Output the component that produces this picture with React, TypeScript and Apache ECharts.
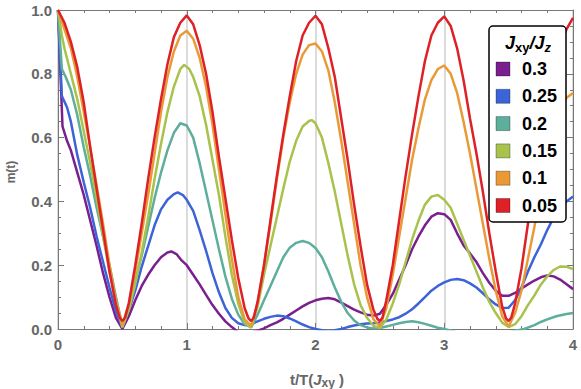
import React, { useEffect, useRef } from "react";
import * as echarts from "echarts";

const ratioLabels = ["0.3", "0.25", "0.2", "0.15", "0.1", "0.05"];
const colors = ["#7A1F8E", "#3D63D8", "#5DAE9B", "#A8C24D", "#E99A37", "#DE2027"];
const xTicks = [0, 1, 2, 3, 4];
const yTicks = [0, 0.2, 0.4, 0.6, 0.8, 1.0];

const purple03: number[][] = [
  [0, 1.0], [0.035, 0.635], [0.07, 0.59], [0.1, 0.56], [0.15, 0.49], [0.2, 0.42], [0.25, 0.34], [0.3, 0.26],
  [0.35, 0.175], [0.4, 0.1], [0.45, 0.035], [0.5, 0.0], [0.55, 0.04], [0.6, 0.09], [0.65, 0.135], [0.7, 0.17],
  [0.75, 0.2], [0.8, 0.225], [0.85, 0.24], [0.88, 0.243], [0.92, 0.235], [0.96, 0.215], [1.0, 0.2],
  [1.05, 0.17], [1.1, 0.14], [1.15, 0.107], [1.2, 0.075], [1.25, 0.048], [1.3, 0.024], [1.35, 0.006], [1.4, -0.01],
  [1.47, -0.015], [1.55, -0.005], [1.59, 0.0], [1.65, 0.012], [1.7, 0.021], [1.75, 0.032], [1.8, 0.045], [1.85, 0.058],
  [1.9, 0.071], [1.95, 0.082], [2.0, 0.09], [2.05, 0.095], [2.1, 0.097], [2.15, 0.093], [2.2, 0.083], [2.25, 0.072],
  [2.3, 0.061], [2.35, 0.052], [2.4, 0.045], [2.45, 0.042], [2.5, 0.048], [2.55, 0.076], [2.6, 0.11], [2.65, 0.155],
  [2.7, 0.2], [2.75, 0.25], [2.8, 0.29], [2.85, 0.325], [2.9, 0.352], [2.95, 0.363], [3.0, 0.36], [3.05, 0.342],
  [3.1, 0.3], [3.15, 0.262], [3.2, 0.237], [3.25, 0.21], [3.3, 0.175], [3.35, 0.145], [3.4, 0.12], [3.45, 0.104],
  [3.5, 0.104], [3.55, 0.113], [3.6, 0.127], [3.65, 0.14], [3.7, 0.152], [3.75, 0.162], [3.8, 0.168], [3.85, 0.165],
  [3.9, 0.155], [3.95, 0.14], [4.0, 0.125],
];

const blue025: number[][] = [
  [0, 1.0], [0.03, 0.73], [0.07, 0.695], [0.1, 0.65], [0.15, 0.545], [0.2, 0.46], [0.25, 0.38], [0.3, 0.29],
  [0.35, 0.21], [0.4, 0.13], [0.45, 0.055], [0.5, 0.005], [0.55, 0.06], [0.6, 0.12], [0.65, 0.195], [0.7, 0.26],
  [0.75, 0.325], [0.8, 0.375], [0.85, 0.405], [0.9, 0.423], [0.93, 0.428], [0.97, 0.42], [1.0, 0.405],
  [1.05, 0.37], [1.1, 0.31], [1.15, 0.245], [1.2, 0.175], [1.25, 0.115], [1.3, 0.066], [1.35, 0.035], [1.4, 0.018],
  [1.45, 0.012], [1.5, 0.015], [1.55, 0.024], [1.6, 0.032], [1.65, 0.038], [1.7, 0.042], [1.75, 0.04], [1.8, 0.033],
  [1.85, 0.024], [1.9, 0.014], [1.95, 0.006], [2.0, 0.0], [2.1, -0.008], [2.2, 0.0], [2.25, 0.006], [2.3, 0.011],
  [2.35, 0.015], [2.4, 0.017], [2.45, 0.018], [2.5, 0.02], [2.55, 0.025], [2.6, 0.03], [2.65, 0.037], [2.7, 0.048],
  [2.75, 0.062], [2.8, 0.08], [2.85, 0.1], [2.9, 0.12], [2.95, 0.135], [3.0, 0.146], [3.05, 0.154], [3.1, 0.157],
  [3.15, 0.153], [3.2, 0.143], [3.25, 0.13], [3.3, 0.112], [3.35, 0.093], [3.4, 0.077], [3.45, 0.066], [3.5, 0.067],
  [3.55, 0.09], [3.6, 0.13], [3.65, 0.18], [3.7, 0.225], [3.75, 0.265], [3.8, 0.31], [3.85, 0.35], [3.9, 0.38],
  [3.95, 0.4], [4.0, 0.415],
];

const teal02: number[][] = [
  [0, 1.0], [0.03, 0.815], [0.06, 0.79], [0.1, 0.75], [0.15, 0.67], [0.2, 0.57], [0.25, 0.48], [0.3, 0.38],
  [0.35, 0.29], [0.4, 0.2], [0.45, 0.1], [0.5, 0.01], [0.55, 0.07], [0.6, 0.15], [0.65, 0.23], [0.7, 0.32],
  [0.75, 0.41], [0.8, 0.49], [0.85, 0.56], [0.9, 0.615], [0.95, 0.645], [1.0, 0.638],
  [1.05, 0.6], [1.1, 0.52], [1.15, 0.43], [1.2, 0.34], [1.25, 0.25], [1.3, 0.165], [1.35, 0.095], [1.4, 0.045],
  [1.45, 0.015], [1.5, 0.005], [1.55, 0.045], [1.6, 0.09], [1.65, 0.135], [1.7, 0.18], [1.75, 0.225], [1.8, 0.255],
  [1.85, 0.27], [1.9, 0.276], [1.95, 0.27], [2.0, 0.254], [2.05, 0.225], [2.1, 0.18], [2.15, 0.13], [2.2, 0.085],
  [2.25, 0.05], [2.3, 0.027], [2.35, 0.012], [2.4, 0.005], [2.45, 0.002], [2.5, 0.003], [2.55, 0.008], [2.6, 0.013],
  [2.65, 0.018], [2.7, 0.022], [2.75, 0.024], [2.8, 0.021], [2.85, 0.016], [2.9, 0.01], [2.95, 0.004], [3.0, 0.0],
  [3.1, -0.01], [3.3, -0.02], [3.5, -0.01], [3.62, 0.0], [3.7, 0.012], [3.75, 0.022], [3.8, 0.03], [3.87, 0.04],
  [3.95, 0.047], [4.0, 0.05],
];

const green015: number[][] = [
  [0, 1.0], [0.03, 0.92], [0.05, 0.88], [0.1, 0.8], [0.15, 0.72], [0.2, 0.62], [0.25, 0.52], [0.3, 0.41],
  [0.35, 0.29], [0.4, 0.18], [0.45, 0.085], [0.5, 0.005], [0.55, 0.06], [0.6, 0.14], [0.65, 0.24], [0.7, 0.35],
  [0.75, 0.47], [0.8, 0.58], [0.85, 0.68], [0.9, 0.76], [0.95, 0.815], [0.98, 0.828], [1.02, 0.815],
  [1.05, 0.79], [1.1, 0.73], [1.15, 0.64], [1.2, 0.53], [1.25, 0.42], [1.3, 0.29], [1.35, 0.17], [1.4, 0.08],
  [1.45, 0.02], [1.5, 0.005], [1.55, 0.07], [1.6, 0.17], [1.65, 0.26], [1.7, 0.35], [1.75, 0.44], [1.8, 0.525],
  [1.85, 0.59], [1.9, 0.635], [1.95, 0.652], [1.97, 0.655], [2.0, 0.645], [2.05, 0.6], [2.1, 0.52], [2.15, 0.43],
  [2.2, 0.33], [2.25, 0.23], [2.3, 0.14], [2.35, 0.075], [2.4, 0.035], [2.45, 0.01], [2.5, 0.003], [2.55, 0.03],
  [2.6, 0.08], [2.65, 0.14], [2.7, 0.21], [2.75, 0.28], [2.8, 0.34], [2.85, 0.39], [2.9, 0.415], [2.95, 0.42],
  [3.0, 0.405], [3.05, 0.38], [3.1, 0.33], [3.15, 0.28], [3.2, 0.23], [3.25, 0.18], [3.3, 0.13], [3.35, 0.085],
  [3.4, 0.05], [3.45, 0.02], [3.5, 0.006], [3.55, 0.015], [3.6, 0.04], [3.65, 0.075], [3.7, 0.105], [3.75, 0.139],
  [3.8, 0.165], [3.85, 0.185], [3.9, 0.196], [3.95, 0.195], [4.0, 0.188],
];

const orange01: number[][] = [
  [0, 1.0], [0.05, 0.94], [0.1, 0.88], [0.15, 0.79], [0.2, 0.68], [0.25, 0.57], [0.3, 0.45], [0.35, 0.33],
  [0.4, 0.2], [0.45, 0.09], [0.5, 0.012], [0.55, 0.08], [0.6, 0.18], [0.65, 0.3], [0.7, 0.42], [0.75, 0.55],
  [0.8, 0.68], [0.85, 0.79], [0.9, 0.87], [0.95, 0.92], [1.0, 0.935],
  [1.05, 0.91], [1.1, 0.85], [1.15, 0.76], [1.2, 0.64], [1.25, 0.5], [1.3, 0.36], [1.35, 0.22], [1.4, 0.1],
  [1.45, 0.03], [1.5, 0.01], [1.55, 0.08], [1.6, 0.2], [1.65, 0.33], [1.7, 0.47], [1.75, 0.6], [1.8, 0.71],
  [1.85, 0.8], [1.9, 0.86], [1.95, 0.89], [2.0, 0.895],
  [2.05, 0.87], [2.1, 0.81], [2.15, 0.71], [2.2, 0.59], [2.25, 0.46], [2.3, 0.33], [2.35, 0.2], [2.4, 0.1],
  [2.45, 0.03], [2.5, 0.008], [2.55, 0.065], [2.6, 0.17], [2.65, 0.29], [2.7, 0.41], [2.75, 0.53], [2.8, 0.63],
  [2.85, 0.72], [2.9, 0.78], [2.95, 0.815], [3.0, 0.826],
  [3.05, 0.8], [3.1, 0.74], [3.15, 0.65], [3.2, 0.55], [3.25, 0.44], [3.3, 0.33], [3.35, 0.22], [3.4, 0.12],
  [3.45, 0.04], [3.5, 0.008], [3.55, 0.05], [3.6, 0.12], [3.65, 0.22], [3.7, 0.32], [3.75, 0.43], [3.8, 0.54],
  [3.85, 0.63], [3.9, 0.69], [3.95, 0.725], [4.0, 0.74],
];

const red005: number[][] = [
  [0, 1.0], [0.05, 0.96], [0.1, 0.9], [0.15, 0.82], [0.2, 0.71], [0.25, 0.57], [0.3, 0.44], [0.35, 0.31],
  [0.4, 0.18], [0.45, 0.075], [0.48, 0.035], [0.5, 0.025], [0.52, 0.035], [0.55, 0.08], [0.6, 0.2], [0.65, 0.33],
  [0.7, 0.47], [0.75, 0.6], [0.8, 0.72], [0.85, 0.83], [0.9, 0.915], [0.95, 0.96], [1.0, 0.983],
  [1.05, 0.955], [1.1, 0.89], [1.15, 0.8], [1.2, 0.68], [1.25, 0.54], [1.3, 0.41], [1.35, 0.28], [1.4, 0.16],
  [1.45, 0.065], [1.48, 0.033], [1.5, 0.025], [1.52, 0.035], [1.55, 0.085], [1.6, 0.2], [1.65, 0.34], [1.7, 0.48],
  [1.75, 0.61], [1.8, 0.73], [1.85, 0.84], [1.9, 0.92], [1.95, 0.96], [2.0, 0.982],
  [2.05, 0.955], [2.1, 0.88], [2.15, 0.79], [2.2, 0.66], [2.25, 0.53], [2.3, 0.39], [2.35, 0.26], [2.4, 0.14],
  [2.45, 0.06], [2.48, 0.032], [2.5, 0.025], [2.52, 0.035], [2.55, 0.09], [2.6, 0.2], [2.65, 0.34], [2.7, 0.48],
  [2.75, 0.61], [2.8, 0.73], [2.85, 0.84], [2.9, 0.92], [2.95, 0.96], [3.0, 0.98],
  [3.05, 0.95], [3.1, 0.88], [3.15, 0.78], [3.2, 0.66], [3.25, 0.55], [3.3, 0.43], [3.35, 0.3], [3.4, 0.18],
  [3.45, 0.07], [3.48, 0.033], [3.5, 0.025], [3.52, 0.035], [3.55, 0.08], [3.6, 0.19], [3.65, 0.33], [3.7, 0.47],
  [3.75, 0.6], [3.8, 0.72], [3.85, 0.82], [3.9, 0.89], [3.95, 0.94], [4.0, 0.975],
];

const seriesData = [purple03, blue025, teal02, green015, orange01, red005];

const FONT = "'Liberation Sans', Arial, sans-serif";
const AXIS_COLOR = "#777";
const LABEL_COLOR = "#666";

export default function App() {
  const ref = useRef<HTMLDivElement>(null);

  useEffect(() => {
    if (!ref.current) return;
    const chart = echarts.init(ref.current, undefined, { renderer: "svg" });

    const baseX = {
      type: "value" as const,
      min: xTicks[0],
      max: xTicks[xTicks.length - 1],
      interval: 1,
      axisLine: { show: true, onZero: false, lineStyle: { color: AXIS_COLOR, width: 1 } },
      axisTick: { show: true, inside: true, length: 6, lineStyle: { color: AXIS_COLOR, width: 1 } },
      minorTick: { show: true, splitNumber: 5, length: 3, lineStyle: { color: AXIS_COLOR, width: 1 } },
    };
    const baseY = {
      type: "value" as const,
      min: yTicks[0],
      max: yTicks[yTicks.length - 1],
      interval: 0.2,
      axisLine: { show: true, onZero: false, lineStyle: { color: AXIS_COLOR, width: 1 } },
      axisTick: { show: true, inside: true, length: 6, lineStyle: { color: AXIS_COLOR, width: 1 } },
      minorTick: { show: true, splitNumber: 4, length: 3, lineStyle: { color: AXIS_COLOR, width: 1 } },
      splitLine: { show: false },
    };

    const legendTop = 26;
    const rowStart = 69;
    const rowGap = 27.3;

    const legendChildren: any[] = [
      {
        type: "rect",
        shape: { x: 489, y: legendTop, width: 77, height: 196, r: 4 },
        style: { fill: "#fff", stroke: "#000", lineWidth: 1.5 },
        z: 100,
      },
      {
        type: "text",
        x: 528,
        y: 43,
        z: 101,
        style: {
          text: "{j|J}{s|xy}{j|/J}{z|z}",
          align: "center",
          verticalAlign: "middle",
          rich: {
            j: { fontSize: 18, fontWeight: "bold", fontStyle: "italic", fontFamily: FONT, fill: "#000", lineHeight: 22, verticalAlign: "middle" },
            s: { fontSize: 13, fontWeight: "bold", fontFamily: FONT, fill: "#000", lineHeight: 12, verticalAlign: "bottom" },
            z: { fontSize: 13, fontWeight: "bold", fontStyle: "italic", fontFamily: FONT, fill: "#000", lineHeight: 12, verticalAlign: "bottom" },
          },
        },
      },
    ];
    ratioLabels.forEach((lab, i) => {
      const cy = rowStart + i * rowGap;
      legendChildren.push({
        type: "rect",
        shape: { x: 496, y: cy - 7, width: 14, height: 14 },
        style: { fill: colors[i], stroke: "rgba(0,0,0,0.3)", lineWidth: 1 },
        z: 101,
      });
      legendChildren.push({
        type: "text",
        x: 522,
        y: cy,
        z: 101,
        style: {
          text: lab,
          fontSize: 18,
          fontWeight: "bold",
          fontFamily: FONT,
          fill: "#000",
          align: "left",
          verticalAlign: "middle",
        },
      });
    });

    const option: any = {
      animation: false,
      backgroundColor: "#fff",
      grid: { left: 58, right: 8, top: 10, bottom: 60, containLabel: false },
      xAxis: [
        {
          ...baseX,
          position: "bottom",
          axisLabel: { show: true, margin: 8, fontSize: 15, fontWeight: "bold", color: LABEL_COLOR, fontFamily: FONT },
          splitLine: { show: true, lineStyle: { color: "#cfcfcf", width: 1.5 } },
        },
        {
          ...baseX,
          position: "top",
          axisLabel: { show: false },
          splitLine: { show: false },
        },
      ],
      yAxis: [
        {
          ...baseY,
          position: "left",
          axisLabel: {
            show: true,
            margin: 6,
            fontSize: 15,
            fontWeight: "bold",
            color: LABEL_COLOR,
            fontFamily: FONT,
            formatter: (v: number) => v.toFixed(1),
          },
        },
        {
          ...baseY,
          position: "right",
          axisLabel: { show: false },
        },
      ],
      series: seriesData.map((d, i) => ({
        name: ratioLabels[i],
        type: "line",
        data: d,
        xAxisIndex: 0,
        yAxisIndex: 0,
        showSymbol: false,
        symbol: "none",
        clip: true,
        smooth: false,
        lineStyle: { color: colors[i], width: 2.5 },
        itemStyle: { color: colors[i] },
        z: 2 + i,
      })),
      graphic: [
        {
          type: "text",
          x: 11,
          y: 172,
          rotation: Math.PI / 2,
          z: 50,
          style: {
            text: "m(t)",
            fontSize: 12,
            fontWeight: "bold",
            fontFamily: FONT,
            fill: LABEL_COLOR,
            align: "center",
            verticalAlign: "middle",
          },
        },
        {
          type: "text",
          x: 317,
          y: 379,
          z: 50,
          style: {
            text: "{a|t/T(}{j|J}{s|xy}{a| )}",
            align: "center",
            verticalAlign: "middle",
            rich: {
              a: { fontSize: 15, fontWeight: "bold", fontFamily: FONT, fill: LABEL_COLOR, lineHeight: 20, verticalAlign: "middle" },
              j: { fontSize: 15, fontWeight: "bold", fontStyle: "italic", fontFamily: FONT, fill: LABEL_COLOR, lineHeight: 20, verticalAlign: "middle" },
              s: { fontSize: 12, fontWeight: "bold", fontFamily: FONT, fill: LABEL_COLOR, lineHeight: 11, verticalAlign: "bottom" },
            },
          },
        },
        {
          type: "group",
          z: 100,
          children: legendChildren,
        },
      ],
    };

    chart.setOption(option);
    return () => {
      chart.dispose();
    };
  }, []);

  return (
    <div
      ref={ref}
      style={{ position: "absolute", left: 0, top: 0, width: 581, height: 389, background: "#fff" }}
    />
  );
}
